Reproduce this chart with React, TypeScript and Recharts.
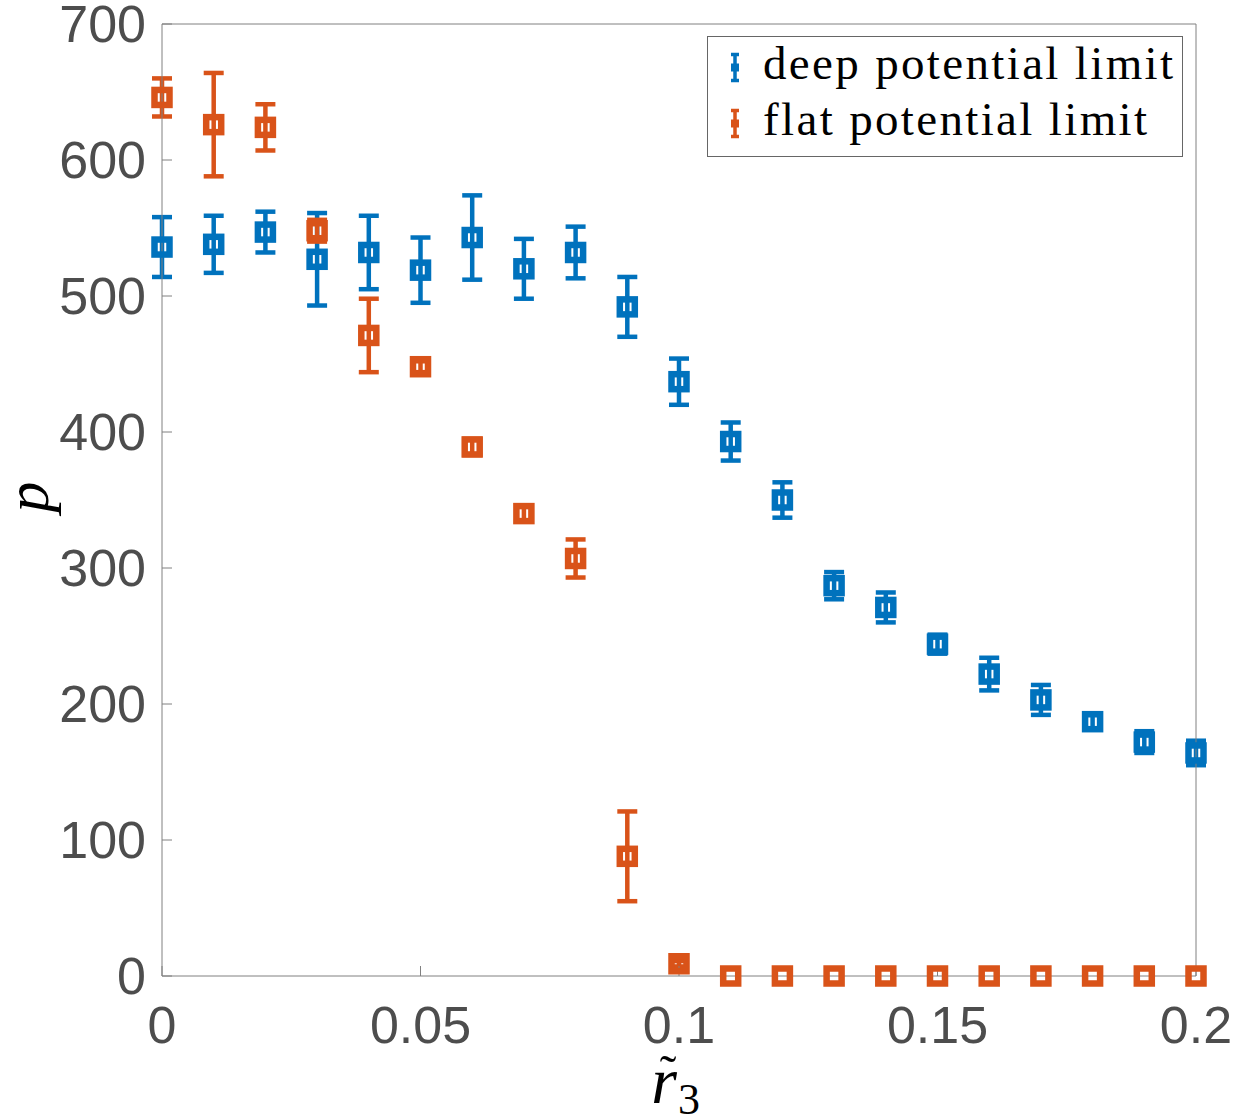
import React from 'react';
import { ScatterChart, Scatter, XAxis, YAxis, ErrorBar, Legend } from 'recharts';

const xs = [0, 0.01, 0.02, 0.03, 0.04, 0.05, 0.06, 0.07, 0.08, 0.09, 0.1, 0.11, 0.12, 0.13, 0.14, 0.15, 0.16, 0.17, 0.18, 0.19, 0.2];
const deepP = [536, 538, 547, 527, 532, 519, 543, 520, 532, 492, 437, 393, 350, 287, 271, 244, 222, 203, 187, 172, 164];
const deepErr = [22, 21, 15, 34, 27, 24, 31, 22, 19, 22, 17, 14, 13, 10, 11, 7, 12, 11, 5, 8, 9];
const flatP = [646, 626, 624, 548, 471, 448, 389, 340, 307, 88, 9, 0, 0, 0, 0, 0, 0, 0, 0, 0, 0];
const flatErr = [14, 38, 17, 8, 27, 4, 6, 6, 14, 33, 2, 0, 0, 0, 0, 0, 0, 0, 0, 0, 0];
const xTicks = [0, 0.05, 0.1, 0.15, 0.2];
const yTicks = [0, 100, 200, 300, 400, 500, 600, 700];
const seriesNames = ['deep potential limit', 'flat potential limit'];

const BLUE = '#0072BD';
const ORANGE = '#D95319';
const AXIS = '#808080';
const TICKTXT = '#4d4d4d';

const deepData = xs.map((x, i) => ({ x, p: deepP[i], err: deepErr[i] }));
const flatData = xs.map((x, i) => ({ x, p: flatP[i], err: flatErr[i] }));

const squareShape = (color: string) => (props: any) => {
  const { cx, cy } = props;
  if (cx == null || cy == null) return <g />;
  return <rect x={cx - 7.5} y={cy - 7.5} width={15} height={15} fill="none" stroke={color} strokeWidth={6.5} />;
};

const legendItems = [
  { name: seriesNames[0], color: BLUE, len: 410 },
  { name: seriesNames[1], color: ORANGE, len: 384 },
];

const LegendBox = () => (
  <svg width={476} height={121} style={{ display: 'block' }}>
    <rect x={0.5} y={0.5} width={475} height={120} fill="#fff" stroke="#666" strokeWidth={1} />
    {legendItems.map((it, i) => {
      const cy = 31.5 + i * 56;
      return (
        <g key={it.name}>
          <line x1={28} x2={28} y1={cy - 14} y2={cy + 14} stroke={it.color} strokeWidth={3.5} />
          <line x1={24} x2={32} y1={cy - 13} y2={cy - 13} stroke={it.color} strokeWidth={3.5} />
          <line x1={24} x2={32} y1={cy + 13} y2={cy + 13} stroke={it.color} strokeWidth={3.5} />
          <rect x={24} y={cy - 4} width={8} height={8} fill={it.color} />
          <text
            x={56}
            y={cy + 11.5}
            fontFamily="'Liberation Serif', 'DejaVu Serif', serif"
            fontSize={47}
            fill="#000"
            textLength={it.len}
            lengthAdjust="spacing"
          >
            {it.name}
          </text>
        </g>
      );
    })}
  </svg>
);

const YLabel = (props: any) => {
  const vb = props.viewBox || {};
  const cx = (vb.x ?? 0) + 27;
  const cy = (vb.y ?? 0) + (vb.height ?? 0) / 2 - 3;
  return (
    <text
      x={cx}
      y={cy}
      transform={`rotate(-90, ${cx}, ${cy})`}
      textAnchor="middle"
      dominantBaseline="central"
      fontFamily="'Liberation Serif', serif"
      fontStyle="italic"
      fontSize={62}
      fill="#000"
    >
      p
    </text>
  );
};

const XLabel = (props: any) => {
  const vb = props.viewBox || {};
  const cx = (vb.x ?? 0) + (vb.width ?? 0) / 2;
  const base = (vb.y ?? 0) + 127;
  return (
    <g fontFamily="'Liberation Serif', serif" fill="#000">
      <text x={cx - 15} y={base} textAnchor="middle" fontStyle="italic" fontSize={66}>r</text>
      <text x={cx - 11} y={base - 13} textAnchor="middle" fontSize={50}>˜</text>
      <text x={cx + 10} y={base + 11} textAnchor="middle" fontSize={44}>3</text>
    </g>
  );
};

const tickStyle = { fill: TICKTXT, fontSize: 52, fontFamily: "'Liberation Sans', Arial, sans-serif" };

export default function App() {
  return (
    <div style={{ position: 'absolute', left: 0, top: 0, width: 1236, height: 1120, background: '#fff' }}>
      <ScatterChart width={1236} height={1120} margin={{ top: 23, right: 39, left: 0, bottom: 0 }}>
        <XAxis
          xAxisId={0}
          type="number"
          dataKey="x"
          domain={[0, 0.2]}
          ticks={xTicks}
          tickFormatter={(v: number) => String(v)}
          height={144}
          stroke={AXIS}
          tickSize={-10}
          tickMargin={40}
          tick={tickStyle}
          interval={0}
          label={<XLabel />}
        />
        <XAxis
          xAxisId="top"
          orientation="top"
          type="number"
          dataKey="x"
          domain={[0, 0.2]}
          ticks={xTicks}
          height={1}
          stroke={AXIS}
          tickSize={-10}
          tick={false}
          interval={0}
        />
        <YAxis
          yAxisId={0}
          type="number"
          dataKey="p"
          domain={[0, 700]}
          ticks={yTicks}
          width={162}
          stroke={AXIS}
          tickSize={-10}
          tickMargin={26}
          tick={tickStyle}
          interval={0}
          label={<YLabel />}
        />
        <YAxis
          yAxisId="right"
          orientation="right"
          type="number"
          dataKey="p"
          domain={[0, 700]}
          ticks={yTicks}
          width={1}
          stroke={AXIS}
          tickSize={-10}
          tick={false}
          interval={0}
        />
        <Legend
          layout="vertical"
          align="center"
          verticalAlign="middle"
          content={() => <LegendBox />}
          wrapperStyle={{ position: 'absolute', left: 707, top: 36, width: 476, height: 121 }}
        />
        <Scatter
          name={seriesNames[0]}
          data={deepData}
          fill={BLUE}
          shape={squareShape(BLUE)}
          isAnimationActive={false}
        >
          <ErrorBar dataKey="err" direction="y" width={10} strokeWidth={4.5} stroke={BLUE} />
        </Scatter>
        <Scatter
          name={seriesNames[1]}
          data={flatData}
          fill={ORANGE}
          shape={squareShape(ORANGE)}
          isAnimationActive={false}
        >
          <ErrorBar dataKey="err" direction="y" width={10} strokeWidth={4.5} stroke={ORANGE} />
        </Scatter>
      </ScatterChart>
    </div>
  );
}
